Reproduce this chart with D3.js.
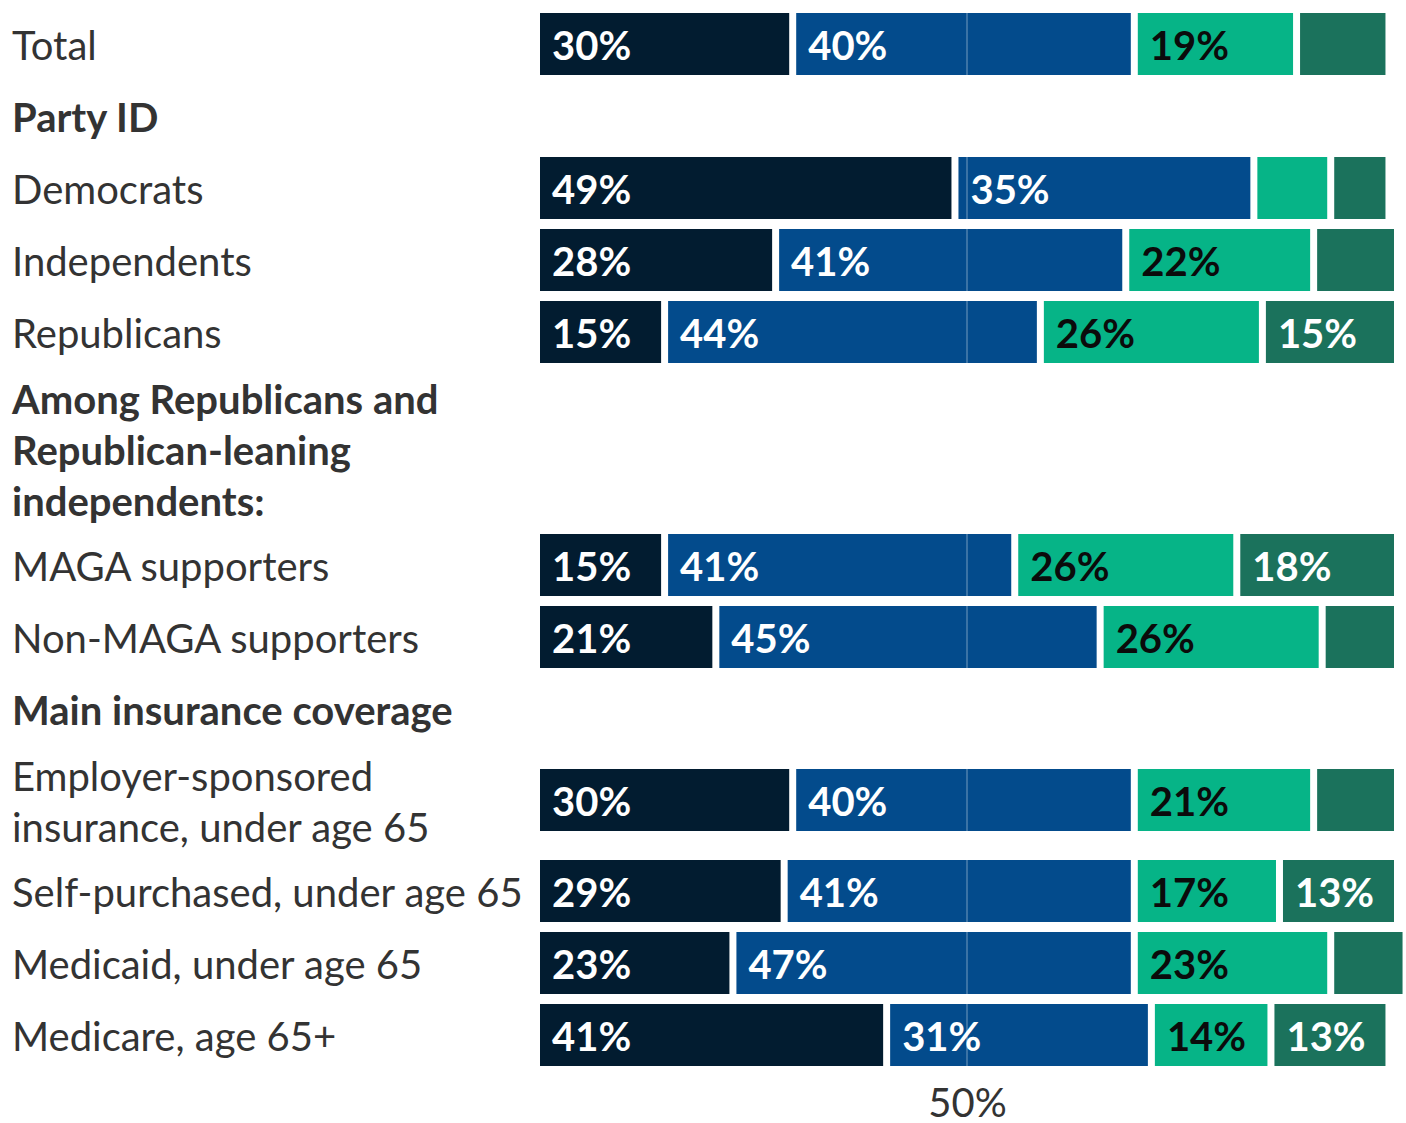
<!DOCTYPE html>
<html>
<head>
<meta charset="utf-8">
<script src="https://cdn.jsdelivr.net/npm/d3@7"></script>
<style>
  html, body { margin: 0; padding: 0; background: #ffffff; }
  svg { display: block; }
  text { font-family: Lato, "Noto Sans", sans-serif; }
</style>
</head>
<body>
<svg id="chart" width="1406" height="1123"></svg>
<script>
// Row labels ("\n" splits a label over several lines) and whether the row is a section header
const rowLabels = [
  "Total",
  "Party ID",
  "Democrats",
  "Independents",
  "Republicans",
  "Among Republicans and\nRepublican-leaning\nindependents:",
  "MAGA supporters",
  "Non-MAGA supporters",
  "Main insurance coverage",
  "Employer-sponsored\ninsurance, under age 65",
  "Self-purchased, under age 65",
  "Medicaid, under age 65",
  "Medicare, age 65+"
];
const rowIsHeader = [false, true, false, false, false, true, false, false, true, false, false, false, false];

// Shares (%) for the four response segments, left to right; null for header rows
const seg1 = [30, null, 49, 28, 15, null, 15, 21, null, 30, 29, 23, 41];
const seg2 = [40, null, 35, 41, 44, null, 41, 45, null, 40, 41, 47, 31];
const seg3 = [19, null,  9, 22, 26, null, 26, 26, null, 21, 17, 23, 14];
const seg4 = [10, null,  6,  9, 15, null, 18,  8, null,  9, 13,  8, 13];

const segKeys = ["seg1", "seg2", "seg3", "seg4"];
const segFill = ["#021c30", "#034b8c", "#06b487", "#1b725c"];
const segText = ["#ffffff", "#ffffff", "#0b0b0b", "#ffffff"];

const axisTicks = [50];

// ---- layout ----
const svg = d3.select("#chart");
const LINE_H = 51, BAR_H = 62, ROW_MIN = 72, GAP = 7, LABEL_MIN = 12;
const FONT = 40;
const DY = "0.4em";

const rows = rowLabels.map((label, i) => {
  const lines = label.split("\n");
  return {
    i, label, lines, header: rowIsHeader[i],
    h: Math.max(ROW_MIN, lines.length * LINE_H + 8),
    seg1: seg1[i], seg2: seg2[i], seg3: seg3[i], seg4: seg4[i]
  };
});
let acc = 8;
rows.forEach(r => { r.top = acc; acc += r.h; });

const x = d3.scaleLinear().domain([0, 100]).range([540, 1394]);
const rowTop = d3.scaleOrdinal().domain(rows.map(r => r.i)).range(rows.map(r => r.top));
const center = r => rowTop(r.i) + r.h / 2;

// ---- row labels ----
const labels = svg.append("g").selectAll("text")
  .data(rows).join("text")
  .attr("x", 12)
  .attr("fill", "#333333")
  .attr("font-size", FONT)
  .attr("font-weight", d => d.header ? 700 : 400);
labels.selectAll("tspan")
  .data(d => d.lines.map((t, k) => ({ t, k, n: d.lines.length, c: center(d) })))
  .join("tspan")
  .attr("x", 12)
  .attr("y", d => d.c + (d.k - (d.n - 1) / 2) * LINE_H)
  .attr("dy", DY)
  .text(d => d.t);

// ---- stacked bars ----
const barRows = rows.filter(r => !r.header);
const stacked = d3.stack().keys(segKeys)(barRows);

const layers = svg.append("g").selectAll("g")
  .data(stacked).join("g")
  .attr("fill", (d, k) => segFill[k]);

layers.selectAll("rect")
  .data(d => d.map(s => ({ s, k: d.index })))
  .join("rect")
  .attr("x", d => x(d.s[0]))
  .attr("y", d => center(d.s.data) - BAR_H / 2)
  .attr("width", d => Math.max(0, x(d.s[1]) - x(d.s[0]) - (d.k < segKeys.length - 1 ? GAP : 0)))
  .attr("height", BAR_H);

// 50% reference line across each bar
svg.append("g").selectAll("line")
  .data(barRows).join("line")
  .attr("x1", x(50)).attr("x2", x(50))
  .attr("y1", d => center(d) - BAR_H / 2)
  .attr("y2", d => center(d) + BAR_H / 2)
  .attr("stroke", "#ffffff")
  .attr("stroke-opacity", 0.3)
  .attr("stroke-width", 1.5);

// value labels inside segments
layers.selectAll("text")
  .data(d => d.map(s => ({ s, k: d.index, v: s[1] - s[0] })).filter(d => d.v >= LABEL_MIN))
  .join("text")
  .attr("x", d => x(d.s[0]) + 12)
  .attr("y", d => center(d.s.data))
  .attr("dy", DY)
  .attr("fill", d => segText[d.k])
  .attr("font-size", FONT)
  .attr("font-weight", 700)
  .text(d => d.v + "%");

// ---- axis ----
const axis = svg.append("g")
  .attr("transform", `translate(0,${acc + 32})`)
  .call(d3.axisBottom(x).tickValues(axisTicks).tickFormat(d => d + "%").tickSize(0).tickPadding(0));
axis.select(".domain").remove();
axis.selectAll("text")
  .attr("y", 0)
  .attr("dy", "0.35em")
  .attr("fill", "#333333")
  .attr("font-size", FONT)
  .attr("font-family", "Lato, 'Noto Sans', sans-serif");
</script>
</body>
</html>
